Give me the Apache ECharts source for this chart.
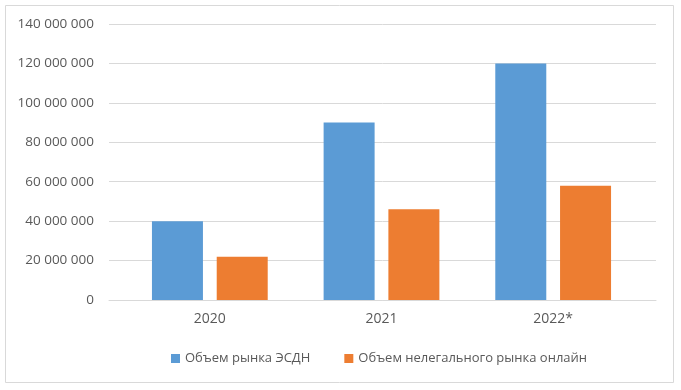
<!DOCTYPE html>
<html>
<head>
<meta charset="utf-8">
<script src="https://cdn.jsdelivr.net/npm/echarts@6/dist/echarts.min.js"></script>
<style>
html,body{margin:0;padding:0;background:#fff;}
#c{width:681px;height:390px;}
</style>
</head>
<body>
<div id="c"></div>
<script>
const categories = ['2020', '2021', '2022*'];
const seriesNames = ['Объем рынка ЭСДН', 'Объем нелегального рынка онлайн'];
const esdnValues = [40000000, 90000000, 120000000];
const illegalValues = [22000000, 46000000, 58000000];
const yTicks = [0, 20000000, 40000000, 60000000, 80000000, 100000000, 120000000, 140000000];

const fmt = v => String(v).replace(/\B(?=(\d{3})+(?!\d))/g, ' ');
const font = '"Open Sans", "DejaVu Sans", sans-serif';
const textColor = '#595959';
const yMin = yTicks[0], yMax = yTicks[yTicks.length - 1], yInt = yTicks[1] - yTicks[0];

const chart = echarts.init(document.getElementById('c'), null, {renderer: 'canvas'});
chart.setOption({
  animation: false,
  backgroundColor: '#fff',
  textStyle: {fontFamily: font},
  graphic: [{
    type: 'rect',
    shape: {x: 5.5, y: 5.5, width: 668, height: 377},
    style: {fill: 'none', stroke: '#d9d9d9', lineWidth: 1},
    silent: true, z: -1
  }],
  legend: {
    left: 166, top: 347,
    itemWidth: 9, itemHeight: 9, itemGap: 34,
    icon: 'rect',
    textStyle: {color: textColor, fontSize: 13, fontFamily: font},
    data: seriesNames
  },
  grid: [
    {left: 109, right: 25, top: 24, bottom: 90},
    {left: 124, right: 42, top: 24, bottom: 90}
  ],
  xAxis: [
    {gridIndex: 0, type: 'category', data: categories, axisLine: {show: true, lineStyle: {color: '#d9d9d9'}},
     axisTick: {show: false}, axisLabel: {show: false}, splitLine: {show: false}},
    {gridIndex: 1, type: 'category', data: categories, axisLine: {show: false},
     axisTick: {show: false}, axisLabel: {color: textColor, fontSize: 14, fontFamily: font, margin: 12},
     splitLine: {show: false}}
  ],
  yAxis: [
    {gridIndex: 0, type: 'value', min: yMin, max: yMax, interval: yInt,
     axisLine: {show: false}, axisTick: {show: false},
     axisLabel: {color: textColor, fontSize: 13.5, fontFamily: font, margin: 15, formatter: fmt},
     splitLine: {lineStyle: {color: '#d9d9d9', width: 1}}},
    {gridIndex: 1, type: 'value', min: yMin, max: yMax, interval: yInt,
     axisLine: {show: false}, axisTick: {show: false}, axisLabel: {show: false}, splitLine: {show: false}}
  ],
  series: [
    {name: seriesNames[0], type: 'bar', xAxisIndex: 1, yAxisIndex: 1, data: esdnValues,
     barWidth: 51, barGap: '27%', itemStyle: {color: '#5B9BD5'}},
    {name: seriesNames[1], type: 'bar', xAxisIndex: 1, yAxisIndex: 1, data: illegalValues,
     barWidth: 51, barGap: '27%', itemStyle: {color: '#ED7D31'}}
  ]
});
</script>
</body>
</html>
